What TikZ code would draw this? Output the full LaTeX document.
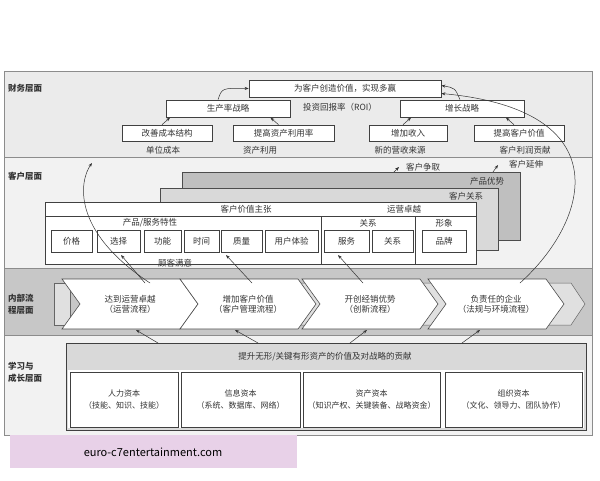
\documentclass[tikz,border=0pt]{standalone}
\usepackage{fontspec}
\setmainfont{Noto Sans CJK SC}
\usetikzlibrary{arrows.meta}
\begin{document}
\begin{tikzpicture}[x=1pt,y=-1pt,
  every node/.style={font=\fontsize{8.5}{10}\selectfont, text=black!80, inner sep=1pt},
  bx/.style={draw=black!75, fill=white, line width=0.7pt},
  lbl/.style={font=\fontsize{8.5}{12}\selectfont\bfseries, anchor=west, align=left},
  ar/.style={-{Stealth[length=4pt,width=3pt]}, black!80, line width=0.5pt},
  chev/.style={draw=black!70, fill=white, line width=0.6pt},
  chevg/.style={draw=black!60, fill=black!12, line width=0.5pt}]
\useasboundingbox (0,0) rectangle (600,480);
% bands
\fill[black!8] (4,71) rectangle (592,157);
\fill[black!5] (4,157) rectangle (592,268);
\fill[black!22] (4,268) rectangle (592,335);
\fill[black!5] (4,335) rectangle (592,435);
\draw[black!45] (4,71) rectangle (592,435);
\draw[black!45] (4,157) -- (592,157) (4,268) -- (592,268) (4,335) -- (592,335);
\node[lbl] (l1) at (7,88) {财务层面};
\node[lbl] (l2) at (7,176) {客户层面};
\node[lbl] (l3) at (7,304) {内部流\\程层面};
\node[lbl] (l4) at (7,372) {学习与\\成长层面};
% financial
\node[bx, minimum width=192, minimum height=17] (top) at (345,88.5) {为客户创造价值，实现多赢};
\node (roi) at (340,107) {投资回报率（ROI）};
\node[bx, minimum width=124, minimum height=17] (prod) at (228,108.5) {生产率战略};
\node[bx, minimum width=124, minimum height=17] (grow) at (462,108.5) {增长战略};
\node[bx, minimum width=90, minimum height=16] (f1) at (167,133) {改善成本结构};
\node[bx, minimum width=101, minimum height=16] (f2) at (283.5,133) {提高资产利用率};
\node[bx, minimum width=78, minimum height=16] (f3) at (408,133) {增加收入};
\node[bx, minimum width=90, minimum height=16] (f4) at (519,133) {提高客户价值};
\node (s1) at (163,150) {单位成本};
\node (s2) at (260,150) {资产利用};
\node (s3) at (400,150) {新的营收来源};
\node (s4) at (525,150) {客户利润贡献};
\draw[ar] (f1.north) ++(-5,0) -- ++(8,-7);
\draw[ar] (f2.north) ++(-5,0) -- ++(-8,-7);
\draw[ar] (f3.north) ++(-5,0) -- ++(8,-7);
\draw[ar] (f4.north) ++(-5,0) -- ++(-8,-7);
\draw[ar] (prod.north) ++(-10,0) .. controls (222,88) .. (top.west);
\draw[ar] (grow.north) ++(-2,0) .. controls (455,88) .. ([yshift=3pt]top.east);
% customer
\node[anchor=west] (ca) at (405,167) {客户争取};
\node[anchor=west] (ce) at (508,164) {客户延伸};
\coordinate (ca0) at (385,181);
\coordinate (ce0) at (488,179);
\draw[ar] (ca0) -- (399,167);
\draw[ar] (ce0) -- (498,165);
\draw[black!70, fill=black!25] (182,172) rectangle (520,240);
\node (pa) at (487,181) {产品优势};
\draw[black!70, fill=black!15] (160,188) rectangle (498,250);
\node (cr) at (466,196) {客户关系};
\draw[black!75, fill=white, line width=0.7pt] (45,202) rectangle (476,264);
\draw[black!75] (45,216) -- (476,216);
\draw[black!75] (321,216) -- (321,264) (415,216) -- (415,264);
\node (cvp) at (246,209) {客户价值主张};
\node (oe) at (404,209) {运营卓越};
\node (ps) at (150,223) {产品/服务特性};
\node (rel) at (368,223) {关系};
\node (img) at (444,223) {形象};
\foreach \n/\a/\b/\t in {c1/51/92/价格,c2/97/140/选择,c3/144/181/功能,c4/184/219/时间,c5/221/262/质量,c6/265/318/用户体验,c7/324/369/服务,c8/372/413/关系,c9/422/466/品牌}
  \node[bx, minimum width={\b-\a}, minimum height=22] (\n) at ({(\a+\b)/2},241.5) {\t};
\node (sat) at (175,263) {顾客满意};
% internal chevrons
\foreach \a in {54,180,302,423}
  \draw[chevg] (\a+14,283) -- (\a+148,283) -- (\a+162,304) -- (\a+148,325) -- (\a+14,325) -- (\a+28,304) -- cycle;
\draw[chevg] (54,283) rectangle (70,325);
\foreach \n/\a/\t in {p1/62/{达到运营卓越\\（运营流程）},p2/180/{增加客户价值\\（客户管理流程）},p3/302/{开创经销优势\\（创新流程）},p4/428/{负责任的企业\\（法规与环境流程）}}{
  \draw[chev] (\a,279) -- (\a+118,279) -- (\a+136,304) -- (\a+118,329) -- (\a,329) -- (\a+18,304) -- cycle;
  \node[align=center] (\n) at (\a+68,304) {\t};
}
\draw[ar] (145,283) -- (121,255);
\draw[ar] (252,283) -- (226,255);
\draw[ar] (363,283) -- (338,255);
\draw[ar] (150,283) .. controls (70,230) and (80,180) .. (92,163);
\draw[ar] (520,283) .. controls (590,220) and (620,110) .. ([yshift=-5pt]top.east);
% learning
\draw[black!75, fill=black!15, line width=0.7pt] (66,343) rectangle (586,430);
\fill[white] (68,370) rectangle (584,428);
\node (lg) at (325,357) {提升无形/关键有形资产的价值及对战略的贡献};
\foreach \n/\a/\b/\t in {k1/70/178/{人力资本\\（技能、知识、技能）},k2/181/300/{信息资本\\（系统、数据库、网络）},k3/303/440/{资产资本\\（知识产权、关键装备、战略资金）},k4/445/582/{组织资本\\（文化、领导力、团队协作）}}
  \node[bx, align=center, minimum width={\b-\a}, minimum height=55, font=\fontsize{8}{12}\selectfont] (\n) at ({(\a+\b)/2},399.5) {\t};
\draw[ar] (158,343) -- (136,330);
\draw[ar] (258,343) -- (235,330);
\draw[ar] (350,343) -- (367,330);
\draw[ar] (462,343) -- (480,330);
% watermark box
\fill[violet!18] (10,435) rectangle (297,468);
\node[font=\fontsize{11}{13}\selectfont, text=black] (wm) at (153,452) {euro-c7entertainment.com};
\end{tikzpicture}
\end{document}
